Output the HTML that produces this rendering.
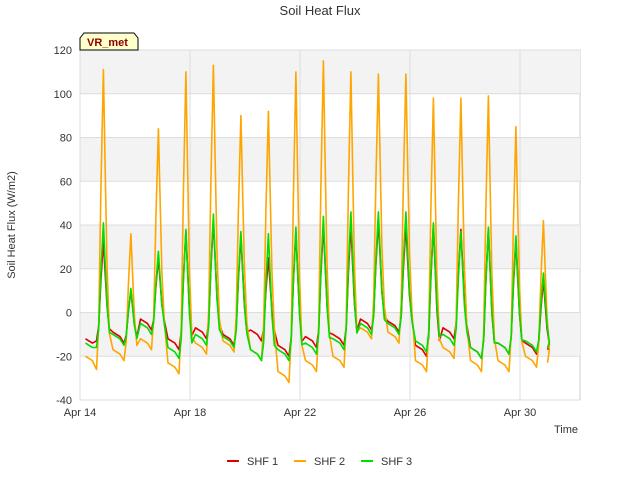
<!DOCTYPE html>
<html><head><meta charset="utf-8"><style>
body{margin:0;background:#fff;font-family:"Liberation Sans",sans-serif;}
</style></head><body>
<svg width="640" height="480" xmlns="http://www.w3.org/2000/svg" font-family="Liberation Sans, sans-serif">
<text x="320" y="15" text-anchor="middle" font-size="13" fill="#333">Soil Heat Flux</text>
<rect x="80" y="50" width="500" height="350" fill="#fff" stroke="#ccc"/>
<g id="grid"></g>
<g id="series"></g>
<g id="axes"></g>
<text x="15" y="225" transform="rotate(-90 15 225)" text-anchor="middle" font-size="11" fill="#333">Soil Heat Flux (W/m2)</text>
<text x="578" y="433" text-anchor="end" font-size="11" fill="#333">Time</text>
<g>
<path d="M80,50 L80,38 L84,33 L134,33 L138,38 L138,50 Z" fill="#ffffcc" stroke="#000"/>
<text x="87" y="46" font-size="11" font-weight="bold" fill="#8b0000">VR_met</text>
</g>
<g>
<g><line x1="227" y1="461" x2="239" y2="461" stroke="#dd0000" stroke-width="2"/><text x="247" y="465" font-size="11" fill="#333">SHF 1</text></g>
<g><line x1="294" y1="461" x2="306" y2="461" stroke="#ffa500" stroke-width="2"/><text x="314" y="465" font-size="11" fill="#333">SHF 2</text></g>
<g><line x1="361" y1="461" x2="373" y2="461" stroke="#00dd00" stroke-width="2"/><text x="381" y="465" font-size="11" fill="#333">SHF 3</text></g>
</g>
</svg>
<script>
const yTicks=[-40,-20,0,20,40,60,80,100,120];
const xTickDays=[0,4,8,12,16];
const xTickLabels=["Apr 14","Apr 18","Apr 22","Apr 26","Apr 30"];
const shf1Peak=[33,10,25,37,42,35,25,37,40,40,42,40,40,38,38,33,15];
const shf1Min=[-13,-14,-8,-17,-12,-15,-13,-20,-16,-15,-8,-9,-20,-12,-21,-19,-19];
const shf2Peak=[111,36,84,110,113,90,92,110,115,110,109,109,98,98,99,85,42];
const shf2Min=[-26,-22,-17,-28,-19,-18,-22,-32,-27,-25,-12,-14,-27,-21,-27,-27,-25];
const shf3Peak=[41,11,28,38,45,37,36,39,44,46,46,46,41,37,39,35,18];
const shf3Min=[-16,-15,-10,-21,-15,-16,-22,-22,-19,-17,-10,-10,-18,-15,-21,-19,-18];
const shfStart=[-12,-20,-14];
const NS="http://www.w3.org/2000/svg";
const X=d=>80+d*27.5;
const Y=v=>400-(v+40)*350/160;
function mk(t,a,p){const e=document.createElementNS(NS,t);for(const k in a)e.setAttribute(k,a[k]);p.appendChild(e);return e;}
const grid=document.getElementById('grid'),axes=document.getElementById('axes'),ser=document.getElementById('series');
[[100,120],[60,80],[20,40],[-20,0]].forEach(b=>{
 const r=mk('rect',{x:80,y:Y(b[1]),width:500,height:Y(b[0])-Y(b[1]),fill:'#f3f3f3'},grid);
 
 
});
yTicks.forEach(v=>{
 const l=mk('line',{x1:80,x2:580,y1:Y(v),y2:Y(v),stroke:'#ddd'},grid);
 
 
 const t=mk('text',{x:72,y:Y(v)+4,'text-anchor':'end','font-size':11,fill:'#333'},axes);
 t.textContent=v;
 
 
});
xTickDays.forEach((d,i)=>{
 const l=mk('line',{x1:X(d),x2:X(d),y1:50,y2:400,stroke:'#ddd'},grid);
 
 
 const t=mk('text',{x:X(d),y:416,'text-anchor':'middle','font-size':11,fill:'#333'},axes);
 t.textContent=xTickLabels[i];
 
 
});
function series(peak,min,start,color,name){
 const pts=[[0.2,start],[0.45,start-2]];
 for(let d=0;d<peak.length;d++){
  const r=peak[d]-min[d];
  pts.push([d+0.6,min[d]]);
  pts.push([d+0.68,min[d]+0.15*r]);
  pts.push([d+0.76,min[d]+0.6*r]);
  pts.push([d+0.85,peak[d]]);
  pts.push([d+0.91,min[d]+0.7*r]);
  pts.push([d+0.98,min[d]+0.35*r]);
  pts.push([d+1.07,min[d]+0.12*r]);
  if(d+1<min.length){pts.push([d+1.2,min[d+1]+5]);pts.push([d+1.45,min[d+1]+3]);}
 }
 pts.push([17.0,min[min.length-1]+2]);
 const dstr=pts.map((p,i)=>(i?'L':'M')+X(p[0]).toFixed(1)+','+Y(p[1]).toFixed(1)).join(' ');
 const path=mk('path',{d:dstr,fill:'none',stroke:color,'stroke-width':1.6,'stroke-linejoin':'round'},ser);
 
 
}
series(shf1Peak,shf1Min,shfStart[0],'#dd0000','shf1-line');
series(shf2Peak,shf2Min,shfStart[1],'#ffa500','shf2-line');
series(shf3Peak,shf3Min,shfStart[2],'#00dd00','shf3-line');
</script>
</body></html>
